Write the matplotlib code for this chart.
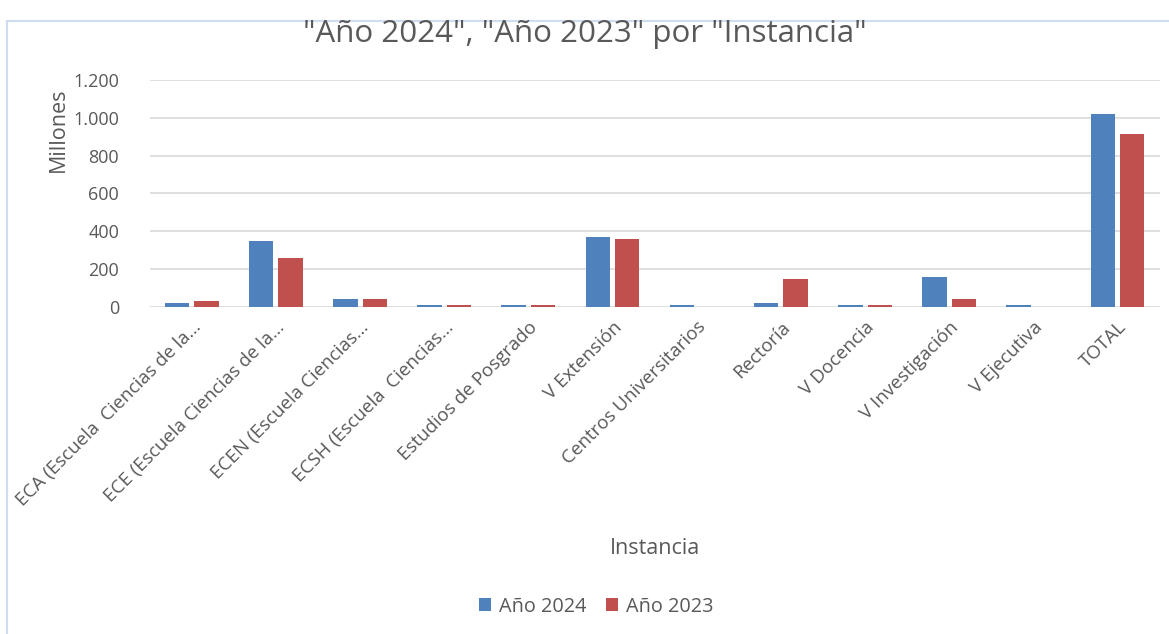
import matplotlib.pyplot as plt
import numpy as np
from matplotlib.patches import Rectangle
from matplotlib.ticker import FuncFormatter

categories = ['ECA (Escuela  Ciencias de la...', 'ECE (Escuela Ciencias de la...',
              'ECEN (Escuela Ciencias...', 'ECSH (Escuela  Ciencias...',
              'Estudios de Posgrado', 'V Extensión', 'Centros Universitarios',
              'Rectoría', 'V Docencia', 'V Investigación', 'V Ejecutiva', 'TOTAL']
anio_2024 = [20, 348, 42, 10, 10, 367, 8, 19, 8, 159, 8, 1021]
anio_2023 = [32, 257, 40, 10, 10, 358, 0, 148, 8, 39, 0, 912]

blue = '#4F81BD'
red = '#C0504D'
grey = '#595959'

plt.rcParams['font.family'] = ['Open Sans', 'DejaVu Sans']

fig = plt.figure(figsize=(11.69, 6.34), dpi=100)
ax = fig.add_axes([0.128, 0.516, 0.864, 0.358])

x = np.arange(len(categories))
w = 0.29
ax.bar(x - 0.175, anio_2024, w, color=blue, label='Año 2024', zorder=3)
ax.bar(x + 0.175, anio_2023, w, color=red, label='Año 2023', zorder=3)

ax.set_xlim(-0.5, len(categories) - 0.5)
ax.set_ylim(0, 1200)
ax.set_yticks(np.arange(0, 1201, 200))
ax.yaxis.set_major_formatter(FuncFormatter(lambda v, p: f'{int(v):,}'.replace(',', '.')))
ax.grid(axis='y', color='#D9D9D9', linewidth=1.2, zorder=0)
for s in ax.spines.values():
    s.set_visible(False)
ax.tick_params(length=0, colors=grey)
ax.tick_params(axis='y', labelsize=13, pad=22)

ax.set_xticks(x)
ax.set_xticklabels(categories, rotation=45, ha='right', rotation_mode='anchor', fontsize=13.5)
ax.tick_params(axis='x', pad=8)

ax.set_ylabel('Millones', color=grey, fontsize=15.5)
ax.yaxis.set_label_coords(-0.08, 0.78)
ax.set_xlabel('Instancia', color=grey, fontsize=15.5)
ax.xaxis.set_label_coords(0.5, -1.02)

fig.suptitle('"Año 2024", "Año 2023" por "Instancia"', color=grey, fontsize=22.5, y=0.97)

fig.legend(loc='center', bbox_to_anchor=(0.51, 0.043), ncol=2, frameon=False,
           fontsize=14.3, handlelength=0.6, handleheight=0.6, columnspacing=1.0,
           handletextpad=0.4, labelcolor=grey)

fig.patches.append(Rectangle((0.006, -0.01), 1.0, 0.977, transform=fig.transFigure,
                             fill=False, edgecolor='#D0DCEF', linewidth=1.5))

fig.savefig('out.png', dpi=100)
